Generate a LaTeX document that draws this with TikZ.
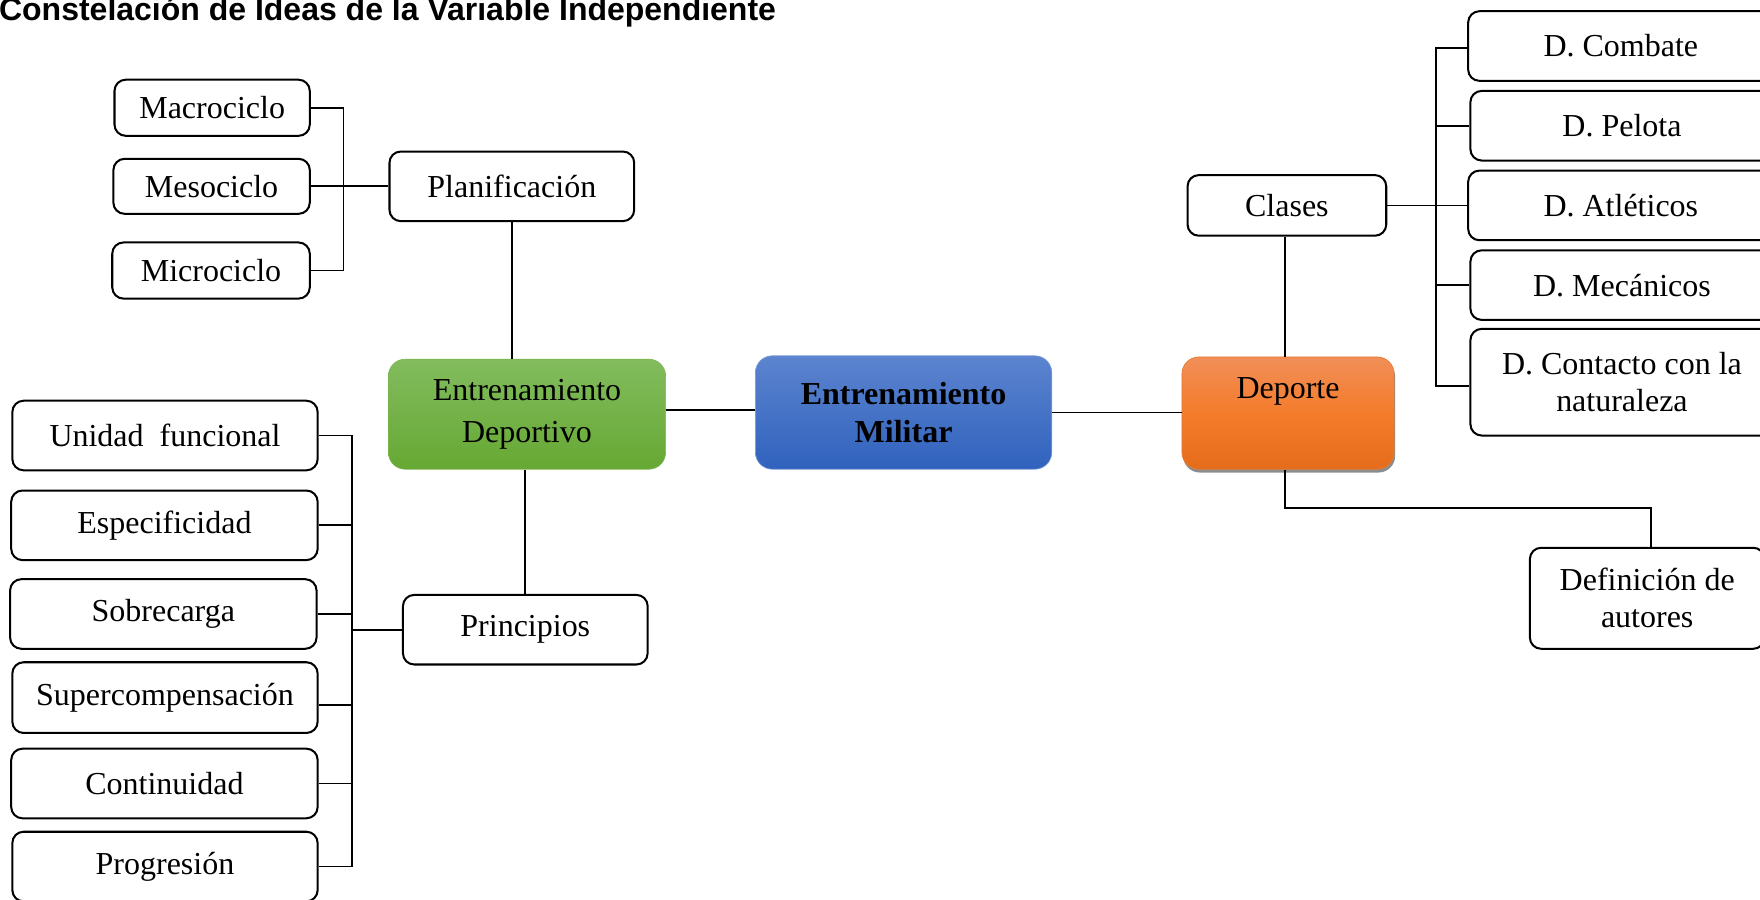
\documentclass[tikz,border=0pt]{standalone}
\usepackage{fontspec}
\setmainfont{Liberation Serif}
\newfontfamily\titlefont{Liberation Sans}
\usetikzlibrary{shadows,calc}
\definecolor{greenTop}{HTML}{82BC5E}
\definecolor{greenBot}{HTML}{66A833}
\definecolor{blueTop}{HTML}{5C84CF}
\definecolor{blueBot}{HTML}{3062BD}
\definecolor{orTop}{HTML}{F18E58}
\definecolor{orMid}{HTML}{F47C2B}
\definecolor{orBot}{HTML}{E46C1B}
\begin{document}
\begin{tikzpicture}[x=1pt,y=-1pt,
  wbox/.style={draw=black, line width=1.8pt, rounded corners=10pt, fill=white,
    inner sep=0pt, align=center, font=\fontsize{28.5}{33}\selectfont},
  sz/.style 2 args={minimum width=#1pt, minimum height=#2pt},
  cbox/.style={rounded corners=15pt, inner sep=0pt, align=center,
    line width=0.6pt, font=\fontsize{28.5}{34}\selectfont},
  link/.style={line width=1.5pt, draw=black},
]
\useasboundingbox (0,0) rectangle (1568,801);

% title
\node[anchor=base west, inner sep=0pt,
  font=\titlefont\bfseries\fontsize{28.5}{30}\selectfont] (title) at (-1,18)
  {Constelación de Ideas de la Variable Independiente};

% planning branch
\node[wbox, sz={174}{50}] (macro) at (189,96) {Macrociclo};
\node[wbox, sz={175}{49}] (meso) at (188.5,166) {Mesociclo};
\node[wbox, sz={176}{50}] (micro) at (188,241) {Microciclo};
\node[wbox, sz={218}{62}] (plan) at (456,166) {Planificación};

% central nodes
\node[cbox, sz={247}{98}, top color=greenTop, bottom color=greenBot,
  draw=greenBot!85!white, font=\fontsize{28.5}{37}\selectfont] (ed) at (469.5,369) {Entrenamiento\\Deportivo};
\node[cbox, sz={264}{101}, top color=blueTop, bottom color=blueBot,
  draw=blueTop!80!white, font=\bfseries\fontsize{28.5}{34}\selectfont] (em) at (805,367.5) {Entrenamiento\\Militar};
\node[cbox, sz={189}{100}, top color=orTop, bottom color=orBot, middle color=orMid,
  draw=orBot!90!white,
  drop shadow={shadow xshift=1pt, shadow yshift=-3pt, fill=black!60, opacity=0.75}]
  (dep) at (1147.5,368) {Deporte\\\strut};

% sport classes
\node[wbox, sz={177}{54}] (clases) at (1146.5,183) {Clases};
\node[wbox, sz={272}{62}] (comb) at (1444,41) {D. Combate};
\node[wbox, sz={270}{62}] (pel) at (1445,112) {D. Pelota};
\node[wbox, sz={272}{62}] (atl) at (1444,183) {D. Atléticos};
\node[wbox, sz={270}{62}] (mec) at (1445,254) {D. Mecánicos};
\node[wbox, sz={270}{95}] (cont) at (1445,340.5) {D. Contacto con la\\naturaleza};
\node[wbox, sz={209}{90}] (defin) at (1467.5,533) {Definición de\\autores};

% principles branch
\node[wbox, sz={218}{62}] (princ) at (468,561) {Principios};
\node[wbox, sz={272}{62}] (unidad) at (147,388) {Unidad\ \ funcional};
\node[wbox, sz={273}{62}] (espec) at (146.5,468) {Especificidad};
\node[wbox, sz={273}{62}] (sobre) at (145.5,547) {Sobrecarga};
\node[wbox, sz={272}{63}] (super) at (147,621.5) {Supercompensación};
\node[wbox, sz={273}{62}] (contin) at (146.5,698) {Continuidad};
\node[wbox, sz={272}{62}] (progr) at (147,772) {Progresión};

% connectors: planning
\draw[link] (macro.east) -- ++(29,0) coordinate (lb1) |- (micro.east);
\draw[link] (meso.east) -- (meso.east -| plan.west);
\draw[link] (plan.south) -- (plan.south |- ed.north);

% connectors: centre
\draw[link] ($(ed.east)+(0,-4)$) -- ($(ed.east -| em.west)+(0,-4)$);
\draw[link] (em.east) -- (em.east -| dep.west);

% connectors: sport
\draw[link] ([xshift=-1.5pt]clases.south) -- ([xshift=-1.5pt]clases.south |- dep.north);
\draw[link] (clases.east) -- (clases.east -| atl.west);
\draw[link] ([yshift=-1.5pt]comb.west) -- ++(-28,0) coordinate (rb) |- ([yshift=-3.5pt]cont.west);
\draw[link] (pel.west) -- (pel.west -| rb);
\draw[link] (mec.west) -- (mec.west -| rb);
\draw[link] ([xshift=-2.5pt]dep.south) -- ++(0,34) -| ([xshift=3.5pt]defin.north);

% connectors: principles
\draw[link] (princ.north) -- (princ.north |- ed.south);
\draw[link] (unidad.east) -- ++(30,0) coordinate (lb2) |- (progr.east);
\draw[link] (espec.east) -- (espec.east -| lb2);
\draw[link] (sobre.east) -- (sobre.east -| lb2);
\draw[link] ([yshift=-6.5pt]super.east) -- ([yshift=-6.5pt]super.east -| lb2);
\draw[link] (contin.east) -- (contin.east -| lb2);
\draw[link] (princ.west) -- (princ.west -| lb2);
\end{tikzpicture}
\end{document}
